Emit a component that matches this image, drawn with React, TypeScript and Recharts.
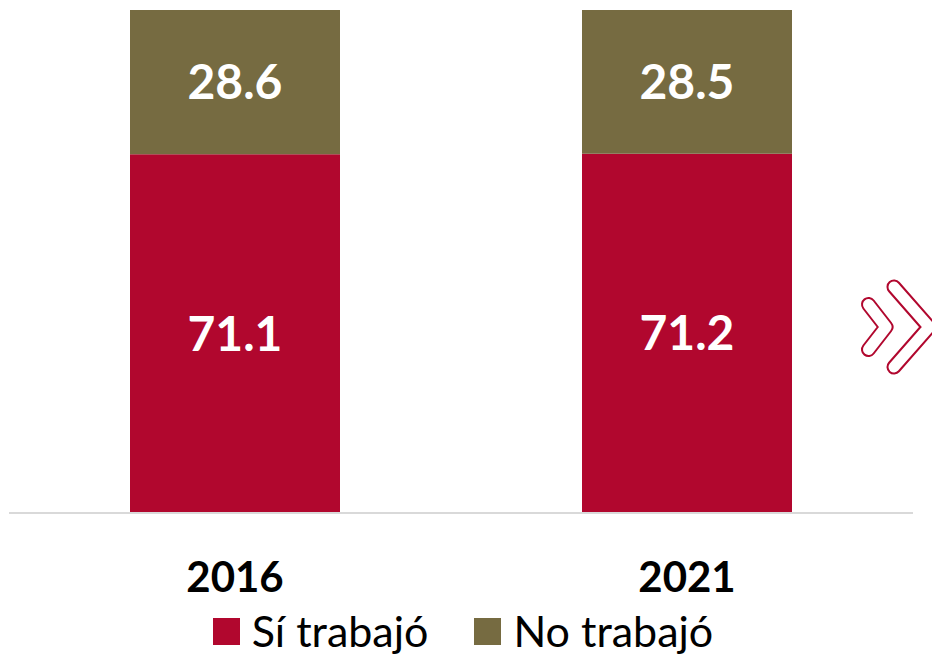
import React from "react";
import { BarChart, Bar, XAxis, YAxis, LabelList, Legend } from "recharts";

const years = ["2016", "2021"];
const siTrabajo = [71.1, 71.2];
const noTrabajo = [28.6, 28.5];

const RED = "#B1072E";
const OLIVE = "#766B41";
const FONT = "Lato, 'Open Sans', sans-serif";

const data = years.map((y, i) => ({ year: y, si: siTrabajo[i], no: noTrabajo[i] }));

const YearTick = (props: any) => {
  const { x, y, payload } = props;
  return (
    <text x={x} y={y + 79} textAnchor="middle" fontFamily={FONT} fontWeight={700} fontSize={42} fill="#000">
      {payload.value}
    </text>
  );
};

const legendItems = [
  { label: "Sí trabajó", color: RED },
  { label: "No trabajó", color: OLIVE },
];

const LegendContent = () => (
  <div style={{ height: 52, display: "flex", justifyContent: "center", alignItems: "center", gap: 46, fontFamily: FONT, fontSize: 43, color: "#000", transform: "translate(2px, 1px)" }}>
    {legendItems.map((it) => (
      <div key={it.label} style={{ display: "flex", alignItems: "center", whiteSpace: "nowrap" }}>
        <span style={{ display: "inline-block", width: 27, height: 27, background: it.color, marginRight: 12 }} />
        <span style={{ lineHeight: "52px" }}>{it.label}</span>
      </div>
    ))}
  </div>
);

export default function App() {
  return (
    <div style={{ position: "absolute", left: 0, top: 0, width: 932, height: 656, background: "#fff" }}>
      <BarChart width={932} height={656} data={data} margin={{ top: 8.5, right: 19, bottom: 0, left: 9 }}>
        <XAxis
          dataKey="year"
          height={91}
          axisLine={{ stroke: "#D9D9D9", strokeWidth: 2 }}
          tickLine={false}
          tickSize={0}
          tickMargin={0}
          tick={<YearTick />}
          interval={0}
        />
        <YAxis hide domain={[0, 100]} />
        <Legend verticalAlign="bottom" height={52} content={<LegendContent />} />
        <Bar dataKey="si" stackId="a" fill={RED} barSize={210} isAnimationActive={false}>
          <LabelList dataKey="si" position="center" fill="#fff" fontFamily={FONT} fontWeight={700} fontSize={48} />
        </Bar>
        <Bar dataKey="no" stackId="a" fill={OLIVE} barSize={210} isAnimationActive={false}>
          <LabelList dataKey="no" position="center" fill="#fff" fontFamily={FONT} fontWeight={700} fontSize={48} />
        </Bar>
      </BarChart>
      <svg width={932} height={656} style={{ position: "absolute", left: 0, top: 0, pointerEvents: "none" }}>
        <g fill="none" strokeLinecap="round" strokeLinejoin="round">
          <polyline points="868.5,304.5 886,327 868.5,349.5" stroke={RED} strokeWidth={15} />
          <polyline points="868.5,304.5 886,327 868.5,349.5" stroke="#fff" strokeWidth={11} />
          <polyline points="894,287 929,327 894,367" stroke={RED} strokeWidth={15} />
          <polyline points="894,287 929,327 894,367" stroke="#fff" strokeWidth={11} />
        </g>
      </svg>
    </div>
  );
}
